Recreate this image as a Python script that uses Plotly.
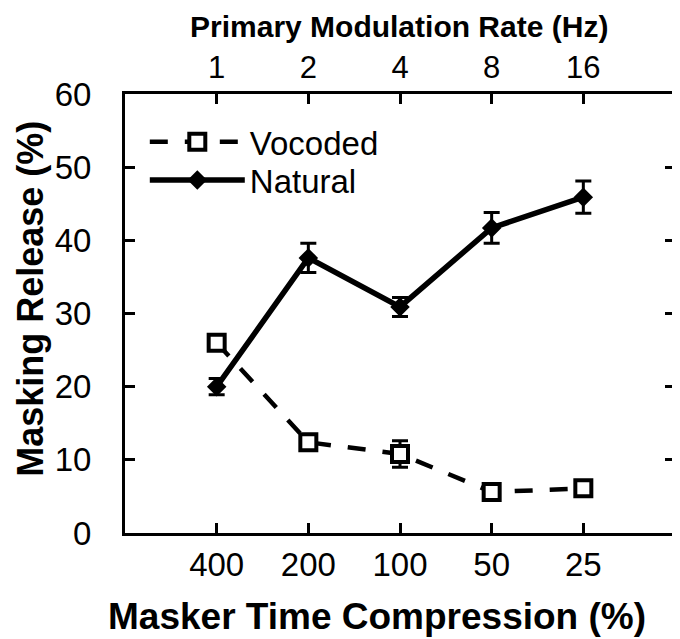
import plotly.graph_objects as go

compression_labels = ["400", "200", "100", "50", "25"]
rate_labels = ["1", "2", "4", "8", "16"]
vocoded = [26.0, 12.4, 10.8, 5.6, 6.1]
vocoded_err = [1.0, 1.0, 1.8, 0.6, 0.6]
natural = [20.0, 37.6, 30.9, 41.7, 45.9]
natural_err = [1.1, 2.0, 1.3, 2.1, 2.2]

pos = list(range(len(compression_labels)))
FONT = "Liberation Sans, Arial, sans-serif"

fig = go.Figure()
fig.add_trace(go.Scatter(
    x=pos, y=vocoded, name="Vocoded", mode="lines+markers", legend="legend",
    line=dict(color="black", width=4.5, dash="18px,17px"),
    marker=dict(symbol="square", size=16, color="white", line=dict(color="black", width=4)),
    error_y=dict(type="data", array=vocoded_err, color="black", thickness=3, width=8),
))
fig.add_trace(go.Scatter(
    x=pos, y=natural, name="Natural", mode="lines+markers", legend="legend2",
    line=dict(color="black", width=5.5),
    marker=dict(symbol="diamond", size=15, color="black"),
    error_y=dict(type="data", array=natural_err, color="black", thickness=3, width=8),
))
# invisible trace to activate top axis
fig.add_trace(go.Scatter(x=pos, y=natural, xaxis="x2", mode="markers",
                         marker=dict(opacity=0), showlegend=False, hoverinfo="skip"))

axis_common = dict(showgrid=False, zeroline=False, showline=True, linecolor="black",
                   linewidth=3, ticks="inside", ticklen=10, tickwidth=3, tickcolor="black",
                   automargin=False)

legend_common = dict(xanchor="left", yanchor="middle", bgcolor="rgba(0,0,0,0)",
                     font=dict(family=FONT, size=33, color="black"), itemwidth=95)

# page body has an 8px margin: shrink the figure so the plot lands where the reference has it
fig.update_layout(
    width=672, height=631,
    margin=dict(l=117, r=5, t=86, b=106),
    plot_bgcolor="white", paper_bgcolor="white",
    font=dict(family=FONT, color="black"),
    xaxis=dict(range=[-1, 5], tickvals=pos, ticktext=compression_labels,
               ticklabelstandoff=0, tickfont=dict(family=FONT, size=33, color="black"),
               **axis_common),
    xaxis2=dict(range=[-1, 5], tickvals=pos, ticktext=rate_labels, overlaying="x", side="top",
                ticklabelstandoff=1, tickfont=dict(family=FONT, size=31, color="black"),
                **axis_common),
    yaxis=dict(range=[0, 60], tickvals=[0, 10, 20, 30, 40, 50, 60],
               mirror="ticks", ticklabelstandoff=24,
               tickfont=dict(family=FONT, size=33, color="black"), **axis_common),
    legend=dict(x=0.036, y=0.891, **legend_common),
    legend2=dict(x=0.036, y=0.804, **legend_common),
    showlegend=True,
    annotations=[
        dict(text="<b>Masker Time Compression (%)</b>", xref="paper", yref="paper",
             x=0.458, y=-0.191, xanchor="center", yanchor="middle", showarrow=False,
             font=dict(family=FONT, size=37, color="black")),
        dict(text="<b>Primary Modulation Rate (Hz)</b>", xref="paper", yref="paper",
             x=0.498, y=1.196, xanchor="center", yanchor="top", showarrow=False,
             font=dict(family=FONT, size=30, color="black")),
        dict(text="<b>Masking Release (%)</b>", xref="paper", yref="paper",
             x=-0.173, y=0.533, xanchor="center", yanchor="middle", showarrow=False,
             textangle=-90, font=dict(family=FONT, size=36, color="black")),
    ],
)

fig.write_html("out.html")
